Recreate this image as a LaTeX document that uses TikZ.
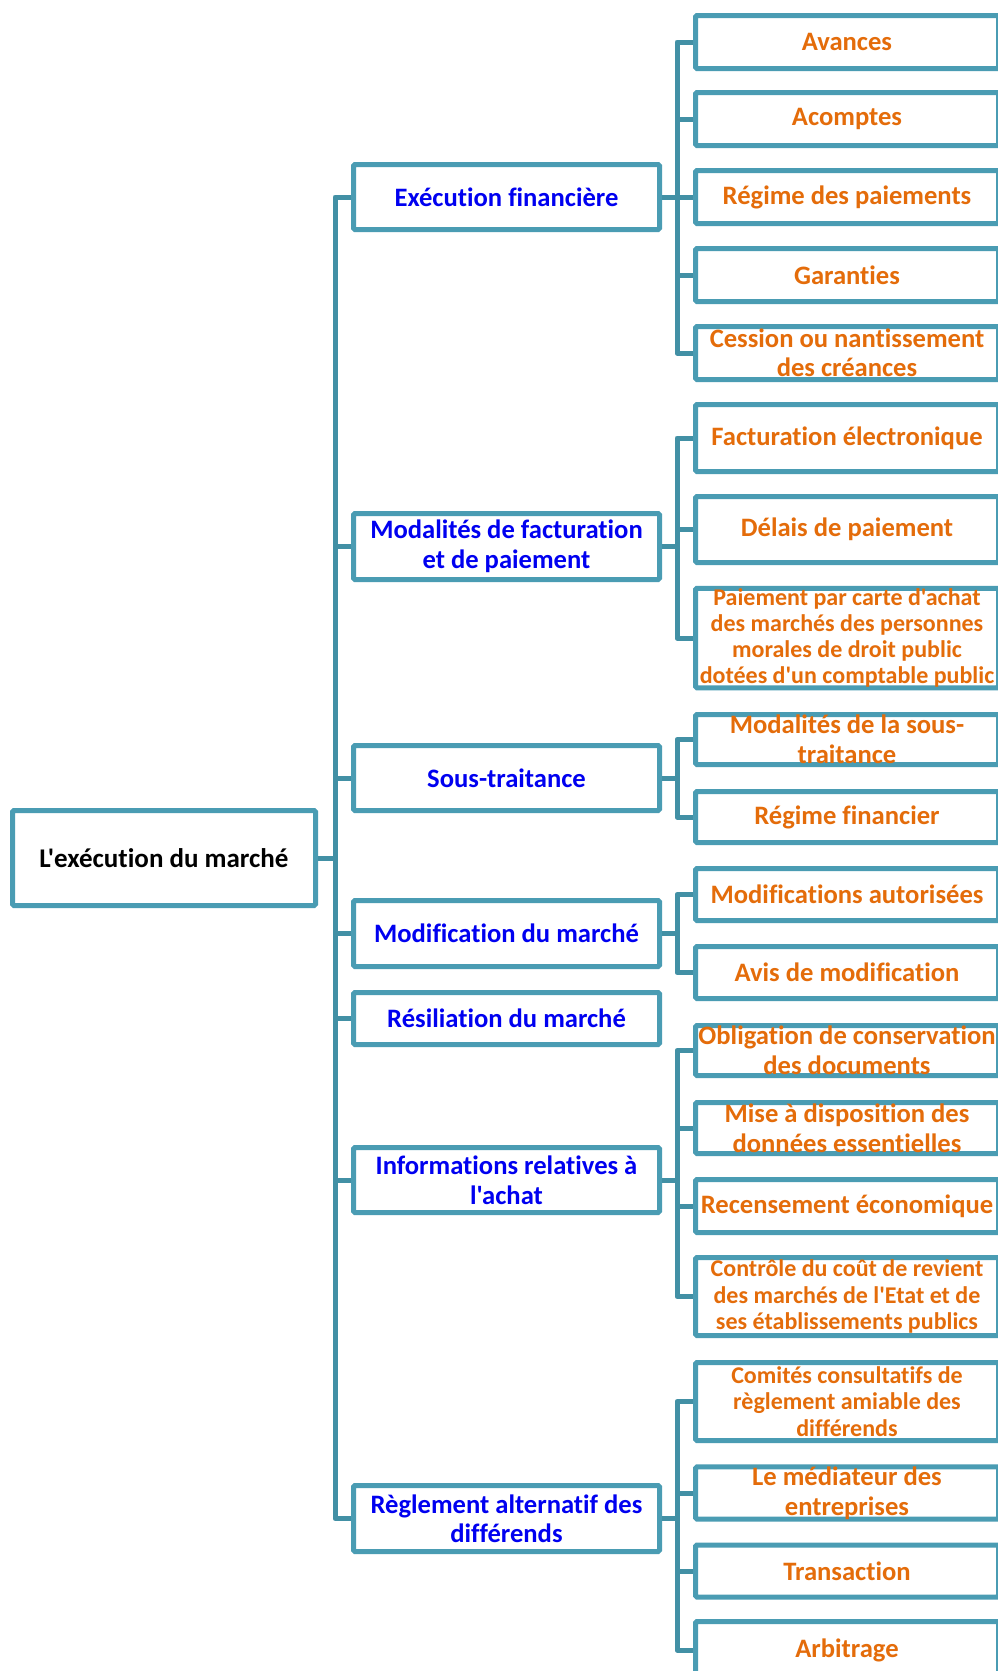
\documentclass[tikz,border=0pt]{standalone}
\usepackage{fontspec}
\newfontfamily\calibri{Carlito}[Ligatures={CommonOff,ContextualOff}]
\definecolor{boxline}{RGB}{74,156,179}
\definecolor{linkline}{RGB}{66,144,165}
\definecolor{midtext}{RGB}{0,0,240}
\definecolor{leaftext}{RGB}{228,108,10}
\tikzset{
  box/.style={draw=boxline, line width=5pt, rounded corners=1.5pt, fill=white,
    inner sep=0pt, align=center, font=\calibri\bfseries\fontsize{26.6}{29.5}\selectfont},
  rootbox/.style={box, minimum width=303pt, minimum height=95pt, text=black,
    font=\calibri\bfseries\fontsize{27}{30}\selectfont},
  midbox/.style={box, minimum width=306pt, text=midtext},
  leafbox/.style={box, minimum width=303pt, text=leaftext},
  smalltext/.style={font=\calibri\bfseries\fontsize{24}{26.3}\selectfont},
  link/.style={draw=linkline, line width=5pt, line join=round}
}
\begin{document}
\begin{tikzpicture}[x=1pt, y=-1pt]
  \clip (0,0) rectangle (998,1671);
  \fill[white] (0,0) rectangle (998,1671);

  \coordinate (mtrunk) at (335,0);
  \coordinate (ltrunk) at (677,0);

  % root
  \node[rootbox] (root) at (164,858) {L'exécution du marché};

  % middle level
  \node[midbox, minimum height=65pt] (fin) at (506.5,197) {Exécution financière};
  \node[midbox, minimum height=66pt] (fact) at (506.5,546.5) {Modalités de facturation\\et de paiement};
  \node[midbox, minimum height=65pt] (sous) at (506.5,778) {Sous-traitance};
  \node[midbox, minimum height=66pt] (modif) at (506.5,933.5) {Modification du marché};
  \node[midbox, minimum height=52pt] (resil) at (506.5,1018.5) {Résiliation du marché};
  \node[midbox, minimum height=65pt] (info) at (506.5,1180) {Informations relatives à\\l'achat};
  \node[midbox, minimum height=66pt] (regl) at (506.5,1518.5) {Règlement alternatif des\\différends};

  % leaves
  \node[leafbox, minimum height=53pt] (avan) at (847,42) {Avances};
  \node[leafbox, minimum height=53pt] (acpt) at (847,119) {Acomptes};
  \node[leafbox, minimum height=53pt] (regp) at (847,197) {Régime des paiements};
  \node[leafbox, minimum height=53pt] (gara) at (847,275) {Garanties};
  \node[leafbox, minimum height=53pt] (cess) at (847,353) {Cession ou nantissement\\des créances};
  \node[leafbox, minimum height=67pt] (factel) at (847,438) {Facturation électronique};
  \node[leafbox, minimum height=66pt] (delai) at (847,529.5) {Délais de paiement};
  \node[leafbox, smalltext, minimum height=99pt] (carte) at (847,638) {Paiement par carte d'achat\\des marchés des personnes\\morales de droit public\\dotées d'un comptable public};
  \node[leafbox, minimum height=50pt] (modst) at (847,739.5) {Modalités de la sous-\\traitance};
  \node[leafbox, minimum height=51pt] (regfin) at (847,817) {Régime financier};
  \node[leafbox, minimum height=52pt] (modaut) at (847,894.5) {Modifications autorisées};
  \node[leafbox, minimum height=52pt] (avis) at (847,972.5) {Avis de modification};
  \node[leafbox, minimum height=50pt] (oblig) at (847,1050.5) {Obligation de conservation\\des documents};
  \node[leafbox, minimum height=51pt] (mise) at (847,1128) {Mise à disposition des\\données essentielles};
  \node[leafbox, minimum height=53pt] (recen) at (847,1206) {Recensement économique};
  \node[leafbox, smalltext, minimum height=78pt] (contr) at (847,1296.5) {Contrôle du coût de revient\\des marchés de l'Etat et de\\ses établissements publics};
  \node[leafbox, smalltext, minimum height=78pt] (comit) at (847,1401.5) {Comités consultatifs de\\règlement amiable des\\différends};
  \node[leafbox, minimum height=52pt] (medi) at (847,1493) {Le médiateur des\\entreprises};
  \node[leafbox, minimum height=52pt] (trans) at (847,1571) {Transaction};
  \node[leafbox, minimum height=57pt] (arbit) at (847,1650) {Arbitrage};

  % root to middle level
  \draw[link] (root.east) -- (root.east -| mtrunk);
  \draw[link] (fin.west) -- (fin.west -| mtrunk) -- (regl.west -| mtrunk) -- (regl.west);
  \foreach \m in {fact,sous,modif,resil,info}
    \draw[link] (\m.west -| mtrunk) -- (\m.west);

  % middle level to leaves
  \foreach \m/\a/\b in {fin/avan/cess, fact/factel/carte, sous/modst/regfin,
      modif/modaut/avis, info/oblig/contr, regl/comit/arbit}{
    \draw[link] (\m.east) -- (\m.east -| ltrunk);
    \draw[link] (\a.west) -- (\a.west -| ltrunk) -- (\b.west -| ltrunk) -- (\b.west);
  }
  \foreach \l in {acpt,regp,gara,delai,mise,recen,medi,trans}
    \draw[link] (\l.west -| ltrunk) -- (\l.west);
\end{tikzpicture}
\end{document}
